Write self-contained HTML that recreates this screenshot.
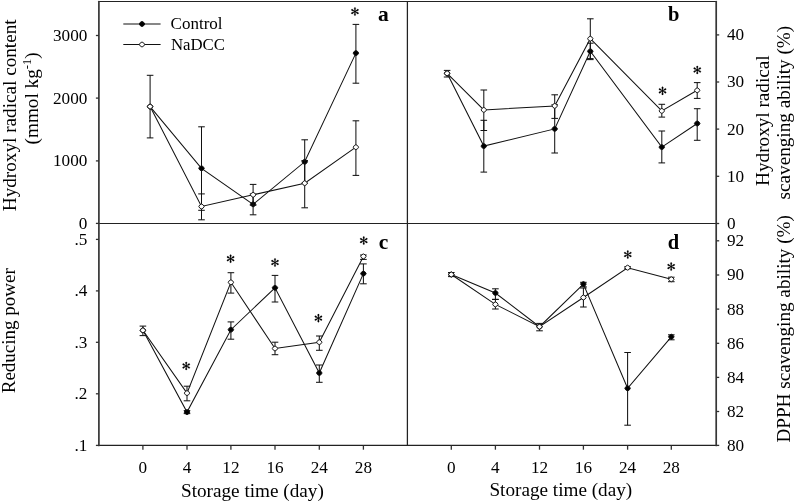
<!DOCTYPE html>
<html>
<head>
<meta charset="utf-8">
<title>Figure</title>
<style>
html, body { margin: 0; padding: 0; background: #ffffff; }
body { width: 797px; height: 503px; overflow: hidden; font-family: "Liberation Serif", serif; }
svg { display: block; will-change: transform; transform: translateZ(0); }
svg text { font-family: "Liberation Serif", serif; fill: #000; }
</style>
</head>
<body>
<svg width="797" height="503" viewBox="0 0 797 503">
<rect x="0" y="0" width="797" height="503" fill="#ffffff"/>
<line x1="98.90" y1="1.50" x2="716.20" y2="1.50" stroke="#222222" stroke-width="1.2" stroke-linecap="round"/>
<line x1="98.90" y1="223.50" x2="716.20" y2="223.50" stroke="#222222" stroke-width="1.2" stroke-linecap="round"/>
<line x1="98.90" y1="445.40" x2="716.20" y2="445.40" stroke="#222222" stroke-width="1.2" stroke-linecap="round"/>
<line x1="98.90" y1="1.50" x2="98.90" y2="445.40" stroke="#363636" stroke-width="1.7" stroke-linecap="round"/>
<line x1="716.20" y1="1.50" x2="716.20" y2="445.40" stroke="#363636" stroke-width="1.7" stroke-linecap="round"/>
<line x1="407.40" y1="1.50" x2="407.40" y2="445.40" stroke="#222222" stroke-width="1.25" />
<line x1="95.90" y1="35.50" x2="98.90" y2="35.50" stroke="#303030" stroke-width="1.3" />
<text x="87.40" y="40.90" font-size="17.2" text-anchor="end" font-weight="normal" >3000</text>
<line x1="95.90" y1="98.10" x2="98.90" y2="98.10" stroke="#303030" stroke-width="1.3" />
<text x="87.40" y="103.50" font-size="17.2" text-anchor="end" font-weight="normal" >2000</text>
<line x1="95.90" y1="160.90" x2="98.90" y2="160.90" stroke="#303030" stroke-width="1.3" />
<text x="87.40" y="166.30" font-size="17.2" text-anchor="end" font-weight="normal" >1000</text>
<line x1="95.90" y1="223.40" x2="98.90" y2="223.40" stroke="#303030" stroke-width="1.3" />
<text x="87.40" y="228.80" font-size="17.2" text-anchor="end" font-weight="normal" >0</text>
<line x1="95.90" y1="239.40" x2="98.90" y2="239.40" stroke="#303030" stroke-width="1.3" />
<text x="87.40" y="244.80" font-size="17.2" text-anchor="end" font-weight="normal" >.5</text>
<line x1="95.90" y1="290.90" x2="98.90" y2="290.90" stroke="#303030" stroke-width="1.3" />
<text x="87.40" y="296.30" font-size="17.2" text-anchor="end" font-weight="normal" >.4</text>
<line x1="95.90" y1="342.30" x2="98.90" y2="342.30" stroke="#303030" stroke-width="1.3" />
<text x="87.40" y="347.70" font-size="17.2" text-anchor="end" font-weight="normal" >.3</text>
<line x1="95.90" y1="393.80" x2="98.90" y2="393.80" stroke="#303030" stroke-width="1.3" />
<text x="87.40" y="399.20" font-size="17.2" text-anchor="end" font-weight="normal" >.2</text>
<line x1="95.90" y1="445.40" x2="98.90" y2="445.40" stroke="#303030" stroke-width="1.3" />
<text x="87.40" y="450.80" font-size="17.2" text-anchor="end" font-weight="normal" >.1</text>
<line x1="716.20" y1="34.90" x2="719.20" y2="34.90" stroke="#303030" stroke-width="1.3" />
<text x="727.00" y="40.30" font-size="17.2" text-anchor="start" font-weight="normal" >40</text>
<line x1="716.20" y1="82.00" x2="719.20" y2="82.00" stroke="#303030" stroke-width="1.3" />
<text x="727.00" y="87.40" font-size="17.2" text-anchor="start" font-weight="normal" >30</text>
<line x1="716.20" y1="129.10" x2="719.20" y2="129.10" stroke="#303030" stroke-width="1.3" />
<text x="727.00" y="134.50" font-size="17.2" text-anchor="start" font-weight="normal" >20</text>
<line x1="716.20" y1="176.30" x2="719.20" y2="176.30" stroke="#303030" stroke-width="1.3" />
<text x="727.00" y="181.70" font-size="17.2" text-anchor="start" font-weight="normal" >10</text>
<line x1="716.20" y1="223.50" x2="719.20" y2="223.50" stroke="#303030" stroke-width="1.3" />
<text x="727.00" y="228.90" font-size="17.2" text-anchor="start" font-weight="normal" >0</text>
<line x1="716.20" y1="240.80" x2="719.20" y2="240.80" stroke="#303030" stroke-width="1.3" />
<text x="727.00" y="246.20" font-size="17.2" text-anchor="start" font-weight="normal" >92</text>
<line x1="716.20" y1="275.00" x2="719.20" y2="275.00" stroke="#303030" stroke-width="1.3" />
<text x="727.00" y="280.40" font-size="17.2" text-anchor="start" font-weight="normal" >90</text>
<line x1="716.20" y1="309.10" x2="719.20" y2="309.10" stroke="#303030" stroke-width="1.3" />
<text x="727.00" y="314.50" font-size="17.2" text-anchor="start" font-weight="normal" >88</text>
<line x1="716.20" y1="343.30" x2="719.20" y2="343.30" stroke="#303030" stroke-width="1.3" />
<text x="727.00" y="348.70" font-size="17.2" text-anchor="start" font-weight="normal" >86</text>
<line x1="716.20" y1="377.40" x2="719.20" y2="377.40" stroke="#303030" stroke-width="1.3" />
<text x="727.00" y="382.80" font-size="17.2" text-anchor="start" font-weight="normal" >84</text>
<line x1="716.20" y1="411.50" x2="719.20" y2="411.50" stroke="#303030" stroke-width="1.3" />
<text x="727.00" y="416.90" font-size="17.2" text-anchor="start" font-weight="normal" >82</text>
<line x1="716.20" y1="445.40" x2="719.20" y2="445.40" stroke="#303030" stroke-width="1.3" />
<text x="727.00" y="450.80" font-size="17.2" text-anchor="start" font-weight="normal" >80</text>
<line x1="142.90" y1="445.40" x2="142.90" y2="449.70" stroke="#303030" stroke-width="1.3" />
<text x="142.90" y="473.40" font-size="17.2" text-anchor="middle" font-weight="normal" >0</text>
<line x1="187.00" y1="445.40" x2="187.00" y2="449.70" stroke="#303030" stroke-width="1.3" />
<text x="187.00" y="473.40" font-size="17.2" text-anchor="middle" font-weight="normal" >4</text>
<line x1="230.90" y1="445.40" x2="230.90" y2="449.70" stroke="#303030" stroke-width="1.3" />
<text x="230.90" y="473.40" font-size="17.2" text-anchor="middle" font-weight="normal" >12</text>
<line x1="275.00" y1="445.40" x2="275.00" y2="449.70" stroke="#303030" stroke-width="1.3" />
<text x="275.00" y="473.40" font-size="17.2" text-anchor="middle" font-weight="normal" >16</text>
<line x1="319.30" y1="445.40" x2="319.30" y2="449.70" stroke="#303030" stroke-width="1.3" />
<text x="319.30" y="473.40" font-size="17.2" text-anchor="middle" font-weight="normal" >24</text>
<line x1="363.40" y1="445.40" x2="363.40" y2="449.70" stroke="#303030" stroke-width="1.3" />
<text x="363.40" y="473.40" font-size="17.2" text-anchor="middle" font-weight="normal" >28</text>
<line x1="451.30" y1="445.40" x2="451.30" y2="449.70" stroke="#303030" stroke-width="1.3" />
<text x="451.30" y="473.40" font-size="17.2" text-anchor="middle" font-weight="normal" >0</text>
<line x1="495.40" y1="445.40" x2="495.40" y2="449.70" stroke="#303030" stroke-width="1.3" />
<text x="495.40" y="473.40" font-size="17.2" text-anchor="middle" font-weight="normal" >4</text>
<line x1="539.50" y1="445.40" x2="539.50" y2="449.70" stroke="#303030" stroke-width="1.3" />
<text x="539.50" y="473.40" font-size="17.2" text-anchor="middle" font-weight="normal" >12</text>
<line x1="583.40" y1="445.40" x2="583.40" y2="449.70" stroke="#303030" stroke-width="1.3" />
<text x="583.40" y="473.40" font-size="17.2" text-anchor="middle" font-weight="normal" >16</text>
<line x1="627.60" y1="445.40" x2="627.60" y2="449.70" stroke="#303030" stroke-width="1.3" />
<text x="627.60" y="473.40" font-size="17.2" text-anchor="middle" font-weight="normal" >24</text>
<line x1="671.30" y1="445.40" x2="671.30" y2="449.70" stroke="#303030" stroke-width="1.3" />
<text x="671.30" y="473.40" font-size="17.2" text-anchor="middle" font-weight="normal" >28</text>
<text x="252.40" y="497.00" font-size="19.2" text-anchor="middle" font-weight="normal" >Storage time (day)</text>
<text x="560.80" y="495.60" font-size="19.2" text-anchor="middle" font-weight="normal" >Storage time (day)</text>
<text x="15.90" y="115.30" font-size="19.2" text-anchor="middle" font-weight="normal" transform="rotate(-90 15.90 115.30)" >Hydroxyl radical content</text>
<text x="38.10" y="98.40" font-size="19.2" text-anchor="middle" font-weight="normal" transform="rotate(-90 38.10 98.40)" >(mmol kg<tspan font-size="12.5" dy="-7">-1</tspan><tspan dy="7">)</tspan></text>
<text x="15.00" y="330.70" font-size="19.0" text-anchor="middle" font-weight="normal" transform="rotate(-90 15.00 330.70)" >Reducing power</text>
<text x="769.30" y="120.60" font-size="19.2" text-anchor="middle" font-weight="normal" transform="rotate(-90 769.30 120.60)" >Hydroxyl radical</text>
<text x="790.50" y="112.60" font-size="19.2" text-anchor="middle" font-weight="normal" transform="rotate(-90 790.50 112.60)" >scavenging ability (%)</text>
<text x="789.90" y="328.80" font-size="19.2" text-anchor="middle" font-weight="normal" transform="rotate(-90 789.90 328.80)" >DPPH scavenging ability (%)</text>
<line x1="123.30" y1="24.00" x2="160.60" y2="24.00" stroke="#111111" stroke-width="1.03" />
<polygon points="139.20,24.00 140.24,22.36 142.00,21.40 143.76,22.36 144.80,24.00 143.76,25.64 142.00,26.60 140.24,25.64" fill="#000" stroke="#111" stroke-width="0.95" stroke-linejoin="round"/>
<line x1="123.30" y1="44.50" x2="160.60" y2="44.50" stroke="#111111" stroke-width="1.03" />
<polygon points="139.30,44.50 140.30,42.92 142.00,42.00 143.70,42.92 144.70,44.50 143.70,46.08 142.00,47.00 140.30,46.08" fill="#fff" stroke="#111" stroke-width="0.95" stroke-linejoin="round"/>
<text x="170.60" y="29.10" font-size="17" text-anchor="start" font-weight="normal" >Control</text>
<text x="170.90" y="49.80" font-size="16.8" text-anchor="start" font-weight="normal" >NaDCC</text>
<line x1="150.10" y1="75.30" x2="150.10" y2="137.90" stroke="#111111" stroke-width="1.03" />
<line x1="146.80" y1="75.30" x2="153.40" y2="75.30" stroke="#111111" stroke-width="1.03" />
<line x1="146.80" y1="137.90" x2="153.40" y2="137.90" stroke="#111111" stroke-width="1.03" />
<line x1="201.50" y1="126.80" x2="201.50" y2="210.30" stroke="#111111" stroke-width="1.03" />
<line x1="198.20" y1="126.80" x2="204.80" y2="126.80" stroke="#111111" stroke-width="1.03" />
<line x1="198.20" y1="210.30" x2="204.80" y2="210.30" stroke="#111111" stroke-width="1.03" />
<line x1="253.10" y1="193.90" x2="253.10" y2="214.80" stroke="#111111" stroke-width="1.03" />
<line x1="249.80" y1="193.90" x2="256.40" y2="193.90" stroke="#111111" stroke-width="1.03" />
<line x1="249.80" y1="214.80" x2="256.40" y2="214.80" stroke="#111111" stroke-width="1.03" />
<line x1="304.70" y1="139.80" x2="304.70" y2="183.20" stroke="#111111" stroke-width="1.03" />
<line x1="301.40" y1="139.80" x2="308.00" y2="139.80" stroke="#111111" stroke-width="1.03" />
<line x1="301.40" y1="183.20" x2="308.00" y2="183.20" stroke="#111111" stroke-width="1.03" />
<line x1="355.90" y1="24.40" x2="355.90" y2="83.20" stroke="#111111" stroke-width="1.03" />
<line x1="352.60" y1="24.40" x2="359.20" y2="24.40" stroke="#111111" stroke-width="1.03" />
<line x1="352.60" y1="83.20" x2="359.20" y2="83.20" stroke="#111111" stroke-width="1.03" />
<polyline points="150.10,106.60 201.50,168.30 253.10,204.30 304.70,161.80 355.90,53.10" fill="none" stroke="#111111" stroke-width="1.03"/>
<polygon points="147.30,106.60 148.34,104.96 150.10,104.00 151.86,104.96 152.90,106.60 151.86,108.24 150.10,109.20 148.34,108.24" fill="#000" stroke="#111" stroke-width="0.95" stroke-linejoin="round"/>
<polygon points="198.70,168.30 199.74,166.66 201.50,165.70 203.26,166.66 204.30,168.30 203.26,169.94 201.50,170.90 199.74,169.94" fill="#000" stroke="#111" stroke-width="0.95" stroke-linejoin="round"/>
<polygon points="250.30,204.30 251.34,202.66 253.10,201.70 254.86,202.66 255.90,204.30 254.86,205.94 253.10,206.90 251.34,205.94" fill="#000" stroke="#111" stroke-width="0.95" stroke-linejoin="round"/>
<polygon points="301.90,161.80 302.94,160.16 304.70,159.20 306.46,160.16 307.50,161.80 306.46,163.44 304.70,164.40 302.94,163.44" fill="#000" stroke="#111" stroke-width="0.95" stroke-linejoin="round"/>
<polygon points="353.10,53.10 354.14,51.46 355.90,50.50 357.66,51.46 358.70,53.10 357.66,54.74 355.90,55.70 354.14,54.74" fill="#000" stroke="#111" stroke-width="0.95" stroke-linejoin="round"/>
<line x1="201.50" y1="193.90" x2="201.50" y2="219.80" stroke="#111111" stroke-width="1.03" />
<line x1="198.20" y1="193.90" x2="204.80" y2="193.90" stroke="#111111" stroke-width="1.03" />
<line x1="198.20" y1="219.80" x2="204.80" y2="219.80" stroke="#111111" stroke-width="1.03" />
<line x1="253.10" y1="184.40" x2="253.10" y2="205.20" stroke="#111111" stroke-width="1.03" />
<line x1="249.80" y1="184.40" x2="256.40" y2="184.40" stroke="#111111" stroke-width="1.03" />
<line x1="249.80" y1="205.20" x2="256.40" y2="205.20" stroke="#111111" stroke-width="1.03" />
<line x1="304.70" y1="160.60" x2="304.70" y2="207.80" stroke="#111111" stroke-width="1.03" />
<line x1="301.40" y1="160.60" x2="308.00" y2="160.60" stroke="#111111" stroke-width="1.03" />
<line x1="301.40" y1="207.80" x2="308.00" y2="207.80" stroke="#111111" stroke-width="1.03" />
<line x1="355.90" y1="120.80" x2="355.90" y2="175.40" stroke="#111111" stroke-width="1.03" />
<line x1="352.60" y1="120.80" x2="359.20" y2="120.80" stroke="#111111" stroke-width="1.03" />
<line x1="352.60" y1="175.40" x2="359.20" y2="175.40" stroke="#111111" stroke-width="1.03" />
<polyline points="150.10,106.60 201.50,206.50 253.10,194.80 304.70,183.20 355.90,147.20" fill="none" stroke="#111111" stroke-width="1.03"/>
<polygon points="147.40,106.60 148.40,105.02 150.10,104.10 151.80,105.02 152.80,106.60 151.80,108.17 150.10,109.10 148.40,108.17" fill="#fff" stroke="#111" stroke-width="0.95" stroke-linejoin="round"/>
<polygon points="198.80,206.50 199.80,204.93 201.50,204.00 203.20,204.93 204.20,206.50 203.20,208.07 201.50,209.00 199.80,208.07" fill="#fff" stroke="#111" stroke-width="0.95" stroke-linejoin="round"/>
<polygon points="250.40,194.80 251.40,193.23 253.10,192.30 254.80,193.23 255.80,194.80 254.80,196.38 253.10,197.30 251.40,196.38" fill="#fff" stroke="#111" stroke-width="0.95" stroke-linejoin="round"/>
<polygon points="302.00,183.20 303.00,181.62 304.70,180.70 306.40,181.62 307.40,183.20 306.40,184.77 304.70,185.70 303.00,184.77" fill="#fff" stroke="#111" stroke-width="0.95" stroke-linejoin="round"/>
<polygon points="353.20,147.20 354.20,145.62 355.90,144.70 357.60,145.62 358.60,147.20 357.60,148.77 355.90,149.70 354.20,148.77" fill="#fff" stroke="#111" stroke-width="0.95" stroke-linejoin="round"/>
<line x1="447.10" y1="70.40" x2="447.10" y2="77.00" stroke="#111111" stroke-width="1.03" />
<line x1="443.80" y1="70.40" x2="450.40" y2="70.40" stroke="#111111" stroke-width="1.03" />
<line x1="443.80" y1="77.00" x2="450.40" y2="77.00" stroke="#111111" stroke-width="1.03" />
<line x1="483.80" y1="120.30" x2="483.80" y2="172.10" stroke="#111111" stroke-width="1.03" />
<line x1="480.50" y1="120.30" x2="487.10" y2="120.30" stroke="#111111" stroke-width="1.03" />
<line x1="480.50" y1="172.10" x2="487.10" y2="172.10" stroke="#111111" stroke-width="1.03" />
<line x1="554.70" y1="104.80" x2="554.70" y2="153.00" stroke="#111111" stroke-width="1.03" />
<line x1="551.40" y1="104.80" x2="558.00" y2="104.80" stroke="#111111" stroke-width="1.03" />
<line x1="551.40" y1="153.00" x2="558.00" y2="153.00" stroke="#111111" stroke-width="1.03" />
<line x1="590.30" y1="43.20" x2="590.30" y2="59.60" stroke="#111111" stroke-width="1.03" />
<line x1="587.00" y1="43.20" x2="593.60" y2="43.20" stroke="#111111" stroke-width="1.03" />
<line x1="587.00" y1="59.60" x2="593.60" y2="59.60" stroke="#111111" stroke-width="1.03" />
<line x1="661.80" y1="131.00" x2="661.80" y2="162.90" stroke="#111111" stroke-width="1.03" />
<line x1="658.50" y1="131.00" x2="665.10" y2="131.00" stroke="#111111" stroke-width="1.03" />
<line x1="658.50" y1="162.90" x2="665.10" y2="162.90" stroke="#111111" stroke-width="1.03" />
<line x1="697.20" y1="108.70" x2="697.20" y2="140.30" stroke="#111111" stroke-width="1.03" />
<line x1="693.90" y1="108.70" x2="700.50" y2="108.70" stroke="#111111" stroke-width="1.03" />
<line x1="693.90" y1="140.30" x2="700.50" y2="140.30" stroke="#111111" stroke-width="1.03" />
<polyline points="447.10,73.30 483.80,146.10 554.70,128.90 590.30,51.30 661.80,147.10 697.20,123.50" fill="none" stroke="#111111" stroke-width="1.03"/>
<polygon points="444.30,73.30 445.34,71.66 447.10,70.70 448.86,71.66 449.90,73.30 448.86,74.94 447.10,75.90 445.34,74.94" fill="#000" stroke="#111" stroke-width="0.95" stroke-linejoin="round"/>
<polygon points="481.00,146.10 482.04,144.46 483.80,143.50 485.56,144.46 486.60,146.10 485.56,147.74 483.80,148.70 482.04,147.74" fill="#000" stroke="#111" stroke-width="0.95" stroke-linejoin="round"/>
<polygon points="551.90,128.90 552.94,127.26 554.70,126.30 556.46,127.26 557.50,128.90 556.46,130.54 554.70,131.50 552.94,130.54" fill="#000" stroke="#111" stroke-width="0.95" stroke-linejoin="round"/>
<polygon points="587.50,51.30 588.54,49.66 590.30,48.70 592.06,49.66 593.10,51.30 592.06,52.94 590.30,53.90 588.54,52.94" fill="#000" stroke="#111" stroke-width="0.95" stroke-linejoin="round"/>
<polygon points="659.00,147.10 660.04,145.46 661.80,144.50 663.56,145.46 664.60,147.10 663.56,148.74 661.80,149.70 660.04,148.74" fill="#000" stroke="#111" stroke-width="0.95" stroke-linejoin="round"/>
<polygon points="694.40,123.50 695.44,121.86 697.20,120.90 698.96,121.86 700.00,123.50 698.96,125.14 697.20,126.10 695.44,125.14" fill="#000" stroke="#111" stroke-width="0.95" stroke-linejoin="round"/>
<line x1="483.80" y1="90.00" x2="483.80" y2="130.50" stroke="#111111" stroke-width="1.03" />
<line x1="480.50" y1="90.00" x2="487.10" y2="90.00" stroke="#111111" stroke-width="1.03" />
<line x1="480.50" y1="130.50" x2="487.10" y2="130.50" stroke="#111111" stroke-width="1.03" />
<line x1="554.70" y1="94.80" x2="554.70" y2="118.40" stroke="#111111" stroke-width="1.03" />
<line x1="551.40" y1="94.80" x2="558.00" y2="94.80" stroke="#111111" stroke-width="1.03" />
<line x1="551.40" y1="118.40" x2="558.00" y2="118.40" stroke="#111111" stroke-width="1.03" />
<line x1="590.30" y1="18.80" x2="590.30" y2="58.60" stroke="#111111" stroke-width="1.03" />
<line x1="587.00" y1="18.80" x2="593.60" y2="18.80" stroke="#111111" stroke-width="1.03" />
<line x1="587.00" y1="58.60" x2="593.60" y2="58.60" stroke="#111111" stroke-width="1.03" />
<line x1="661.80" y1="104.30" x2="661.80" y2="117.10" stroke="#111111" stroke-width="1.03" />
<line x1="658.50" y1="104.30" x2="665.10" y2="104.30" stroke="#111111" stroke-width="1.03" />
<line x1="658.50" y1="117.10" x2="665.10" y2="117.10" stroke="#111111" stroke-width="1.03" />
<line x1="697.20" y1="82.60" x2="697.20" y2="98.40" stroke="#111111" stroke-width="1.03" />
<line x1="693.90" y1="82.60" x2="700.50" y2="82.60" stroke="#111111" stroke-width="1.03" />
<line x1="693.90" y1="98.40" x2="700.50" y2="98.40" stroke="#111111" stroke-width="1.03" />
<polyline points="447.10,73.30 483.80,109.90 554.70,105.90 590.30,38.70 661.80,110.90 697.20,90.30" fill="none" stroke="#111111" stroke-width="1.03"/>
<polygon points="444.40,73.30 445.40,71.72 447.10,70.80 448.80,71.72 449.80,73.30 448.80,74.88 447.10,75.80 445.40,74.88" fill="#fff" stroke="#111" stroke-width="0.95" stroke-linejoin="round"/>
<polygon points="481.10,109.90 482.10,108.33 483.80,107.40 485.50,108.33 486.50,109.90 485.50,111.48 483.80,112.40 482.10,111.48" fill="#fff" stroke="#111" stroke-width="0.95" stroke-linejoin="round"/>
<polygon points="552.00,105.90 553.00,104.33 554.70,103.40 556.40,104.33 557.40,105.90 556.40,107.48 554.70,108.40 553.00,107.48" fill="#fff" stroke="#111" stroke-width="0.95" stroke-linejoin="round"/>
<polygon points="587.60,38.70 588.60,37.12 590.30,36.20 592.00,37.12 593.00,38.70 592.00,40.28 590.30,41.20 588.60,40.28" fill="#fff" stroke="#111" stroke-width="0.95" stroke-linejoin="round"/>
<polygon points="659.10,110.90 660.10,109.33 661.80,108.40 663.50,109.33 664.50,110.90 663.50,112.48 661.80,113.40 660.10,112.48" fill="#fff" stroke="#111" stroke-width="0.95" stroke-linejoin="round"/>
<polygon points="694.50,90.30 695.50,88.72 697.20,87.80 698.90,88.72 699.90,90.30 698.90,91.88 697.20,92.80 695.50,91.88" fill="#fff" stroke="#111" stroke-width="0.95" stroke-linejoin="round"/>
<line x1="142.90" y1="326.10" x2="142.90" y2="335.60" stroke="#111111" stroke-width="1.03" />
<line x1="139.60" y1="326.10" x2="146.20" y2="326.10" stroke="#111111" stroke-width="1.03" />
<line x1="139.60" y1="335.60" x2="146.20" y2="335.60" stroke="#111111" stroke-width="1.03" />
<line x1="187.00" y1="410.60" x2="187.00" y2="413.60" stroke="#111111" stroke-width="1.03" />
<line x1="183.70" y1="410.60" x2="190.30" y2="410.60" stroke="#111111" stroke-width="1.03" />
<line x1="183.70" y1="413.60" x2="190.30" y2="413.60" stroke="#111111" stroke-width="1.03" />
<line x1="230.90" y1="321.90" x2="230.90" y2="339.20" stroke="#111111" stroke-width="1.03" />
<line x1="227.60" y1="321.90" x2="234.20" y2="321.90" stroke="#111111" stroke-width="1.03" />
<line x1="227.60" y1="339.20" x2="234.20" y2="339.20" stroke="#111111" stroke-width="1.03" />
<line x1="275.00" y1="275.40" x2="275.00" y2="302.00" stroke="#111111" stroke-width="1.03" />
<line x1="271.70" y1="275.40" x2="278.30" y2="275.40" stroke="#111111" stroke-width="1.03" />
<line x1="271.70" y1="302.00" x2="278.30" y2="302.00" stroke="#111111" stroke-width="1.03" />
<line x1="319.30" y1="365.00" x2="319.30" y2="382.30" stroke="#111111" stroke-width="1.03" />
<line x1="316.00" y1="365.00" x2="322.60" y2="365.00" stroke="#111111" stroke-width="1.03" />
<line x1="316.00" y1="382.30" x2="322.60" y2="382.30" stroke="#111111" stroke-width="1.03" />
<line x1="363.40" y1="263.90" x2="363.40" y2="283.80" stroke="#111111" stroke-width="1.03" />
<line x1="360.10" y1="263.90" x2="366.70" y2="263.90" stroke="#111111" stroke-width="1.03" />
<line x1="360.10" y1="283.80" x2="366.70" y2="283.80" stroke="#111111" stroke-width="1.03" />
<polyline points="142.90,330.30 187.00,412.10 230.90,329.70 275.00,287.80 319.30,373.00 363.40,273.60" fill="none" stroke="#111111" stroke-width="1.03"/>
<polygon points="140.10,330.30 141.14,328.66 142.90,327.70 144.66,328.66 145.70,330.30 144.66,331.94 142.90,332.90 141.14,331.94" fill="#000" stroke="#111" stroke-width="0.95" stroke-linejoin="round"/>
<polygon points="184.20,412.10 185.24,410.46 187.00,409.50 188.76,410.46 189.80,412.10 188.76,413.74 187.00,414.70 185.24,413.74" fill="#000" stroke="#111" stroke-width="0.95" stroke-linejoin="round"/>
<polygon points="228.10,329.70 229.14,328.06 230.90,327.10 232.66,328.06 233.70,329.70 232.66,331.34 230.90,332.30 229.14,331.34" fill="#000" stroke="#111" stroke-width="0.95" stroke-linejoin="round"/>
<polygon points="272.20,287.80 273.24,286.16 275.00,285.20 276.76,286.16 277.80,287.80 276.76,289.44 275.00,290.40 273.24,289.44" fill="#000" stroke="#111" stroke-width="0.95" stroke-linejoin="round"/>
<polygon points="316.50,373.00 317.54,371.36 319.30,370.40 321.06,371.36 322.10,373.00 321.06,374.64 319.30,375.60 317.54,374.64" fill="#000" stroke="#111" stroke-width="0.95" stroke-linejoin="round"/>
<polygon points="360.60,273.60 361.64,271.96 363.40,271.00 365.16,271.96 366.20,273.60 365.16,275.24 363.40,276.20 361.64,275.24" fill="#000" stroke="#111" stroke-width="0.95" stroke-linejoin="round"/>
<line x1="187.00" y1="386.20" x2="187.00" y2="400.80" stroke="#111111" stroke-width="1.03" />
<line x1="183.70" y1="386.20" x2="190.30" y2="386.20" stroke="#111111" stroke-width="1.03" />
<line x1="183.70" y1="400.80" x2="190.30" y2="400.80" stroke="#111111" stroke-width="1.03" />
<line x1="230.90" y1="272.70" x2="230.90" y2="293.10" stroke="#111111" stroke-width="1.03" />
<line x1="227.60" y1="272.70" x2="234.20" y2="272.70" stroke="#111111" stroke-width="1.03" />
<line x1="227.60" y1="293.10" x2="234.20" y2="293.10" stroke="#111111" stroke-width="1.03" />
<line x1="275.00" y1="342.20" x2="275.00" y2="354.70" stroke="#111111" stroke-width="1.03" />
<line x1="271.70" y1="342.20" x2="278.30" y2="342.20" stroke="#111111" stroke-width="1.03" />
<line x1="271.70" y1="354.70" x2="278.30" y2="354.70" stroke="#111111" stroke-width="1.03" />
<line x1="319.30" y1="336.00" x2="319.30" y2="350.30" stroke="#111111" stroke-width="1.03" />
<line x1="316.00" y1="336.00" x2="322.60" y2="336.00" stroke="#111111" stroke-width="1.03" />
<line x1="316.00" y1="350.30" x2="322.60" y2="350.30" stroke="#111111" stroke-width="1.03" />
<line x1="363.40" y1="255.00" x2="363.40" y2="259.40" stroke="#111111" stroke-width="1.03" />
<line x1="360.10" y1="255.00" x2="366.70" y2="255.00" stroke="#111111" stroke-width="1.03" />
<line x1="360.10" y1="259.40" x2="366.70" y2="259.40" stroke="#111111" stroke-width="1.03" />
<polyline points="142.90,330.30 187.00,393.10 230.90,282.30 275.00,348.50 319.30,342.20 363.40,256.40" fill="none" stroke="#111111" stroke-width="1.03"/>
<polygon points="140.20,330.30 141.20,328.73 142.90,327.80 144.60,328.73 145.60,330.30 144.60,331.88 142.90,332.80 141.20,331.88" fill="#fff" stroke="#111" stroke-width="0.95" stroke-linejoin="round"/>
<polygon points="184.30,393.10 185.30,391.53 187.00,390.60 188.70,391.53 189.70,393.10 188.70,394.68 187.00,395.60 185.30,394.68" fill="#fff" stroke="#111" stroke-width="0.95" stroke-linejoin="round"/>
<polygon points="228.20,282.30 229.20,280.73 230.90,279.80 232.60,280.73 233.60,282.30 232.60,283.88 230.90,284.80 229.20,283.88" fill="#fff" stroke="#111" stroke-width="0.95" stroke-linejoin="round"/>
<polygon points="272.30,348.50 273.30,346.93 275.00,346.00 276.70,346.93 277.70,348.50 276.70,350.07 275.00,351.00 273.30,350.07" fill="#fff" stroke="#111" stroke-width="0.95" stroke-linejoin="round"/>
<polygon points="316.60,342.20 317.60,340.62 319.30,339.70 321.00,340.62 322.00,342.20 321.00,343.77 319.30,344.70 317.60,343.77" fill="#fff" stroke="#111" stroke-width="0.95" stroke-linejoin="round"/>
<polygon points="360.70,256.40 361.70,254.82 363.40,253.90 365.10,254.82 366.10,256.40 365.10,257.97 363.40,258.90 361.70,257.97" fill="#fff" stroke="#111" stroke-width="0.95" stroke-linejoin="round"/>
<line x1="451.30" y1="272.50" x2="451.30" y2="276.60" stroke="#111111" stroke-width="1.03" />
<line x1="448.00" y1="272.50" x2="454.60" y2="272.50" stroke="#111111" stroke-width="1.03" />
<line x1="448.00" y1="276.60" x2="454.60" y2="276.60" stroke="#111111" stroke-width="1.03" />
<line x1="495.40" y1="288.80" x2="495.40" y2="299.40" stroke="#111111" stroke-width="1.03" />
<line x1="492.10" y1="288.80" x2="498.70" y2="288.80" stroke="#111111" stroke-width="1.03" />
<line x1="492.10" y1="299.40" x2="498.70" y2="299.40" stroke="#111111" stroke-width="1.03" />
<line x1="539.50" y1="323.40" x2="539.50" y2="330.80" stroke="#111111" stroke-width="1.03" />
<line x1="536.20" y1="323.40" x2="542.80" y2="323.40" stroke="#111111" stroke-width="1.03" />
<line x1="536.20" y1="330.80" x2="542.80" y2="330.80" stroke="#111111" stroke-width="1.03" />
<line x1="583.40" y1="282.30" x2="583.40" y2="286.80" stroke="#111111" stroke-width="1.03" />
<line x1="580.10" y1="282.30" x2="586.70" y2="282.30" stroke="#111111" stroke-width="1.03" />
<line x1="580.10" y1="286.80" x2="586.70" y2="286.80" stroke="#111111" stroke-width="1.03" />
<line x1="627.60" y1="352.50" x2="627.60" y2="425.20" stroke="#111111" stroke-width="1.03" />
<line x1="624.30" y1="352.50" x2="630.90" y2="352.50" stroke="#111111" stroke-width="1.03" />
<line x1="624.30" y1="425.20" x2="630.90" y2="425.20" stroke="#111111" stroke-width="1.03" />
<line x1="671.30" y1="334.80" x2="671.30" y2="339.80" stroke="#111111" stroke-width="1.03" />
<line x1="668.00" y1="334.80" x2="674.60" y2="334.80" stroke="#111111" stroke-width="1.03" />
<line x1="668.00" y1="339.80" x2="674.60" y2="339.80" stroke="#111111" stroke-width="1.03" />
<polyline points="451.30,274.50 495.40,293.00 539.50,326.70 583.40,284.10 627.60,388.30 671.30,336.80" fill="none" stroke="#111111" stroke-width="1.03"/>
<polygon points="448.50,274.50 449.54,272.86 451.30,271.90 453.06,272.86 454.10,274.50 453.06,276.14 451.30,277.10 449.54,276.14" fill="#000" stroke="#111" stroke-width="0.95" stroke-linejoin="round"/>
<polygon points="492.60,293.00 493.64,291.36 495.40,290.40 497.16,291.36 498.20,293.00 497.16,294.64 495.40,295.60 493.64,294.64" fill="#000" stroke="#111" stroke-width="0.95" stroke-linejoin="round"/>
<polygon points="536.70,326.70 537.74,325.06 539.50,324.10 541.26,325.06 542.30,326.70 541.26,328.34 539.50,329.30 537.74,328.34" fill="#000" stroke="#111" stroke-width="0.95" stroke-linejoin="round"/>
<polygon points="580.60,284.10 581.64,282.46 583.40,281.50 585.16,282.46 586.20,284.10 585.16,285.74 583.40,286.70 581.64,285.74" fill="#000" stroke="#111" stroke-width="0.95" stroke-linejoin="round"/>
<polygon points="624.80,388.30 625.84,386.66 627.60,385.70 629.36,386.66 630.40,388.30 629.36,389.94 627.60,390.90 625.84,389.94" fill="#000" stroke="#111" stroke-width="0.95" stroke-linejoin="round"/>
<polygon points="668.50,336.80 669.54,335.16 671.30,334.20 673.06,335.16 674.10,336.80 673.06,338.44 671.30,339.40 669.54,338.44" fill="#000" stroke="#111" stroke-width="0.95" stroke-linejoin="round"/>
<line x1="495.40" y1="299.40" x2="495.40" y2="309.00" stroke="#111111" stroke-width="1.03" />
<line x1="492.10" y1="299.40" x2="498.70" y2="299.40" stroke="#111111" stroke-width="1.03" />
<line x1="492.10" y1="309.00" x2="498.70" y2="309.00" stroke="#111111" stroke-width="1.03" />
<line x1="583.40" y1="288.00" x2="583.40" y2="307.00" stroke="#111111" stroke-width="1.03" />
<line x1="580.10" y1="288.00" x2="586.70" y2="288.00" stroke="#111111" stroke-width="1.03" />
<line x1="580.10" y1="307.00" x2="586.70" y2="307.00" stroke="#111111" stroke-width="1.03" />
<line x1="627.60" y1="266.70" x2="627.60" y2="268.70" stroke="#111111" stroke-width="1.03" />
<line x1="624.30" y1="266.70" x2="630.90" y2="266.70" stroke="#111111" stroke-width="1.03" />
<line x1="624.30" y1="268.70" x2="630.90" y2="268.70" stroke="#111111" stroke-width="1.03" />
<line x1="671.30" y1="277.20" x2="671.30" y2="281.70" stroke="#111111" stroke-width="1.03" />
<line x1="668.00" y1="277.20" x2="674.60" y2="277.20" stroke="#111111" stroke-width="1.03" />
<line x1="668.00" y1="281.70" x2="674.60" y2="281.70" stroke="#111111" stroke-width="1.03" />
<polyline points="451.30,274.50 495.40,304.40 539.50,326.70 583.40,297.50 627.60,267.70 671.30,279.30" fill="none" stroke="#111111" stroke-width="1.03"/>
<polygon points="448.60,274.50 449.60,272.93 451.30,272.00 453.00,272.93 454.00,274.50 453.00,276.07 451.30,277.00 449.60,276.07" fill="#fff" stroke="#111" stroke-width="0.95" stroke-linejoin="round"/>
<polygon points="492.70,304.40 493.70,302.82 495.40,301.90 497.10,302.82 498.10,304.40 497.10,305.97 495.40,306.90 493.70,305.97" fill="#fff" stroke="#111" stroke-width="0.95" stroke-linejoin="round"/>
<polygon points="536.80,326.70 537.80,325.12 539.50,324.20 541.20,325.12 542.20,326.70 541.20,328.27 539.50,329.20 537.80,328.27" fill="#fff" stroke="#111" stroke-width="0.95" stroke-linejoin="round"/>
<polygon points="580.70,297.50 581.70,295.93 583.40,295.00 585.10,295.93 586.10,297.50 585.10,299.07 583.40,300.00 581.70,299.07" fill="#fff" stroke="#111" stroke-width="0.95" stroke-linejoin="round"/>
<polygon points="624.90,267.70 625.90,266.12 627.60,265.20 629.30,266.12 630.30,267.70 629.30,269.27 627.60,270.20 625.90,269.27" fill="#fff" stroke="#111" stroke-width="0.95" stroke-linejoin="round"/>
<polygon points="668.60,279.30 669.60,277.73 671.30,276.80 673.00,277.73 674.00,279.30 673.00,280.88 671.30,281.80 669.60,280.88" fill="#fff" stroke="#111" stroke-width="0.95" stroke-linejoin="round"/>
<path d="M354.66 11.56 L354.59 10.14 L354.16 8.64 L354.22 7.92 L354.59 7.51 L355.29 7.51 L355.66 7.92 L355.72 8.64 L355.29 10.14 L355.22 11.56Z M355.22 11.56 L355.29 12.98 L355.72 14.48 L355.66 15.21 L355.29 15.61 L354.59 15.61 L354.22 15.21 L354.16 14.48 L354.59 12.98 L354.66 11.56Z M354.80 11.32 L355.99 10.55 L357.08 9.43 L357.74 9.12 L358.27 9.23 L358.62 9.84 L358.46 10.36 L357.86 10.78 L356.34 11.15 L355.08 11.80Z M355.08 11.32 L356.34 11.97 L357.86 12.34 L358.46 12.76 L358.62 13.28 L358.27 13.89 L357.74 14.00 L357.08 13.69 L355.99 12.57 L354.80 11.80Z M355.08 11.80 L353.89 12.57 L352.80 13.69 L352.14 14.00 L351.61 13.89 L351.26 13.28 L351.42 12.76 L352.02 12.34 L353.54 11.97 L354.80 11.32Z M354.80 11.80 L353.54 11.15 L352.02 10.78 L351.42 10.36 L351.26 9.84 L351.61 9.23 L352.14 9.12 L352.80 9.43 L353.89 10.55 L355.08 11.32Z" fill="#000" stroke="#000" stroke-width="0.25" stroke-linejoin="round"/>
<path d="M662.26 90.84 L662.19 89.42 L661.76 87.92 L661.82 87.20 L662.19 86.79 L662.89 86.79 L663.26 87.20 L663.32 87.92 L662.89 89.42 L662.82 90.84Z M662.82 90.84 L662.89 92.26 L663.32 93.76 L663.26 94.48 L662.89 94.89 L662.19 94.89 L661.82 94.48 L661.76 93.76 L662.19 92.26 L662.26 90.84Z M662.40 90.60 L663.59 89.83 L664.68 88.71 L665.34 88.40 L665.87 88.51 L666.22 89.12 L666.06 89.64 L665.46 90.06 L663.94 90.43 L662.68 91.08Z M662.68 90.60 L663.94 91.25 L665.46 91.62 L666.06 92.04 L666.22 92.56 L665.87 93.17 L665.34 93.28 L664.68 92.97 L663.59 91.85 L662.40 91.08Z M662.68 91.08 L661.49 91.85 L660.40 92.97 L659.74 93.28 L659.21 93.17 L658.86 92.56 L659.02 92.04 L659.62 91.62 L661.14 91.25 L662.40 90.60Z M662.40 91.08 L661.14 90.43 L659.62 90.06 L659.02 89.64 L658.86 89.12 L659.21 88.51 L659.74 88.40 L660.40 88.71 L661.49 89.83 L662.68 90.60Z" fill="#000" stroke="#000" stroke-width="0.25" stroke-linejoin="round"/>
<path d="M696.98 69.96 L696.91 68.54 L696.48 67.04 L696.54 66.31 L696.91 65.91 L697.61 65.91 L697.98 66.31 L698.04 67.04 L697.61 68.54 L697.54 69.96Z M697.54 69.96 L697.61 71.38 L698.04 72.88 L697.98 73.60 L697.61 74.01 L696.91 74.01 L696.54 73.60 L696.48 72.88 L696.91 71.38 L696.98 69.96Z M697.12 69.72 L698.31 68.95 L699.40 67.83 L700.06 67.52 L700.59 67.63 L700.94 68.24 L700.78 68.76 L700.18 69.18 L698.66 69.55 L697.40 70.20Z M697.40 69.72 L698.66 70.37 L700.18 70.74 L700.78 71.16 L700.94 71.68 L700.59 72.29 L700.06 72.40 L699.40 72.09 L698.31 70.97 L697.12 70.20Z M697.40 70.20 L696.21 70.97 L695.12 72.09 L694.46 72.40 L693.93 72.29 L693.58 71.68 L693.74 71.16 L694.34 70.74 L695.86 70.37 L697.12 69.72Z M697.12 70.20 L695.86 69.55 L694.34 69.18 L693.74 68.76 L693.58 68.24 L693.93 67.63 L694.46 67.52 L695.12 67.83 L696.21 68.95 L697.40 69.72Z" fill="#000" stroke="#000" stroke-width="0.25" stroke-linejoin="round"/>
<path d="M185.92 365.96 L185.85 364.54 L185.42 363.04 L185.48 362.31 L185.85 361.91 L186.55 361.91 L186.92 362.31 L186.98 363.04 L186.55 364.54 L186.48 365.96Z M186.48 365.96 L186.55 367.38 L186.98 368.88 L186.92 369.60 L186.55 370.01 L185.85 370.01 L185.48 369.60 L185.42 368.88 L185.85 367.38 L185.92 365.96Z M186.06 365.72 L187.25 364.95 L188.34 363.83 L189.00 363.52 L189.53 363.63 L189.88 364.24 L189.72 364.76 L189.12 365.18 L187.60 365.55 L186.34 366.20Z M186.34 365.72 L187.60 366.37 L189.12 366.74 L189.72 367.16 L189.88 367.68 L189.53 368.29 L189.00 368.40 L188.34 368.09 L187.25 366.97 L186.06 366.20Z M186.34 366.20 L185.15 366.97 L184.06 368.09 L183.40 368.40 L182.87 368.29 L182.52 367.68 L182.68 367.16 L183.28 366.74 L184.80 366.37 L186.06 365.72Z M186.06 366.20 L184.80 365.55 L183.28 365.18 L182.68 364.76 L182.52 364.24 L182.87 363.63 L183.40 363.52 L184.06 363.83 L185.15 364.95 L186.34 365.72Z" fill="#000" stroke="#000" stroke-width="0.25" stroke-linejoin="round"/>
<path d="M230.32 258.70 L230.25 257.28 L229.82 255.78 L229.88 255.05 L230.25 254.65 L230.95 254.65 L231.32 255.05 L231.38 255.78 L230.95 257.28 L230.88 258.70Z M230.88 258.70 L230.95 260.12 L231.38 261.62 L231.32 262.34 L230.95 262.75 L230.25 262.75 L229.88 262.34 L229.82 261.62 L230.25 260.12 L230.32 258.70Z M230.46 258.46 L231.65 257.69 L232.74 256.57 L233.40 256.26 L233.93 256.37 L234.28 256.98 L234.12 257.50 L233.52 257.92 L232.00 258.29 L230.74 258.94Z M230.74 258.46 L232.00 259.11 L233.52 259.48 L234.12 259.90 L234.28 260.42 L233.93 261.03 L233.40 261.14 L232.74 260.83 L231.65 259.71 L230.46 258.94Z M230.74 258.94 L229.55 259.71 L228.46 260.83 L227.80 261.14 L227.27 261.03 L226.92 260.42 L227.08 259.90 L227.68 259.48 L229.20 259.11 L230.46 258.46Z M230.46 258.94 L229.20 258.29 L227.68 257.92 L227.08 257.50 L226.92 256.98 L227.27 256.37 L227.80 256.26 L228.46 256.57 L229.55 257.69 L230.74 258.46Z" fill="#000" stroke="#000" stroke-width="0.25" stroke-linejoin="round"/>
<path d="M274.72 262.50 L274.65 261.08 L274.22 259.58 L274.28 258.86 L274.65 258.45 L275.35 258.45 L275.72 258.86 L275.78 259.58 L275.35 261.08 L275.28 262.50Z M275.28 262.50 L275.35 263.92 L275.78 265.42 L275.72 266.14 L275.35 266.55 L274.65 266.55 L274.28 266.14 L274.22 265.42 L274.65 263.92 L274.72 262.50Z M274.86 262.26 L276.05 261.49 L277.14 260.37 L277.80 260.06 L278.33 260.17 L278.68 260.78 L278.52 261.30 L277.92 261.72 L276.40 262.09 L275.14 262.74Z M275.14 262.26 L276.40 262.91 L277.92 263.28 L278.52 263.70 L278.68 264.22 L278.33 264.83 L277.80 264.94 L277.14 264.63 L276.05 263.51 L274.86 262.74Z M275.14 262.74 L273.95 263.51 L272.86 264.63 L272.20 264.94 L271.67 264.83 L271.32 264.22 L271.48 263.70 L272.08 263.28 L273.60 262.91 L274.86 262.26Z M274.86 262.74 L273.60 262.09 L272.08 261.72 L271.48 261.30 L271.32 260.78 L271.67 260.17 L272.20 260.06 L272.86 260.37 L273.95 261.49 L275.14 262.26Z" fill="#000" stroke="#000" stroke-width="0.25" stroke-linejoin="round"/>
<path d="M318.12 318.16 L318.05 316.74 L317.62 315.24 L317.68 314.52 L318.05 314.11 L318.75 314.11 L319.12 314.52 L319.18 315.24 L318.75 316.74 L318.68 318.16Z M318.68 318.16 L318.75 319.58 L319.18 321.08 L319.12 321.81 L318.75 322.21 L318.05 322.21 L317.68 321.81 L317.62 321.08 L318.05 319.58 L318.12 318.16Z M318.26 317.92 L319.45 317.15 L320.54 316.03 L321.20 315.72 L321.73 315.83 L322.08 316.44 L321.92 316.96 L321.32 317.38 L319.80 317.75 L318.54 318.40Z M318.54 317.92 L319.80 318.57 L321.32 318.94 L321.92 319.36 L322.08 319.88 L321.73 320.49 L321.20 320.60 L320.54 320.29 L319.45 319.17 L318.26 318.40Z M318.54 318.40 L317.35 319.17 L316.26 320.29 L315.60 320.60 L315.07 320.49 L314.72 319.88 L314.88 319.36 L315.48 318.94 L317.00 318.57 L318.26 317.92Z M318.26 318.40 L317.00 317.75 L315.48 317.38 L314.88 316.96 L314.72 316.44 L315.07 315.83 L315.60 315.72 L316.26 316.03 L317.35 317.15 L318.54 317.92Z" fill="#000" stroke="#000" stroke-width="0.25" stroke-linejoin="round"/>
<path d="M363.47 240.55 L363.40 239.13 L362.97 237.63 L363.03 236.91 L363.40 236.50 L364.10 236.50 L364.47 236.91 L364.53 237.63 L364.10 239.13 L364.03 240.55Z M364.03 240.55 L364.10 241.97 L364.53 243.47 L364.47 244.20 L364.10 244.60 L363.40 244.60 L363.03 244.20 L362.97 243.47 L363.40 241.97 L363.47 240.55Z M363.61 240.31 L364.80 239.54 L365.89 238.42 L366.55 238.11 L367.08 238.22 L367.43 238.83 L367.27 239.35 L366.67 239.77 L365.15 240.14 L363.89 240.79Z M363.89 240.31 L365.15 240.96 L366.67 241.33 L367.27 241.75 L367.43 242.27 L367.08 242.88 L366.55 242.99 L365.89 242.68 L364.80 241.56 L363.61 240.79Z M363.89 240.79 L362.70 241.56 L361.61 242.68 L360.95 242.99 L360.42 242.88 L360.07 242.27 L360.23 241.75 L360.83 241.33 L362.35 240.96 L363.61 240.31Z M363.61 240.79 L362.35 240.14 L360.83 239.77 L360.23 239.35 L360.07 238.83 L360.42 238.22 L360.95 238.11 L361.61 238.42 L362.70 239.54 L363.89 240.31Z" fill="#000" stroke="#000" stroke-width="0.25" stroke-linejoin="round"/>
<path d="M627.50 254.52 L627.43 253.10 L627.00 251.60 L627.06 250.88 L627.43 250.47 L628.13 250.47 L628.50 250.88 L628.56 251.60 L628.13 253.10 L628.06 254.52Z M628.06 254.52 L628.13 255.94 L628.56 257.44 L628.50 258.17 L628.13 258.57 L627.43 258.57 L627.06 258.17 L627.00 257.44 L627.43 255.94 L627.50 254.52Z M627.64 254.28 L628.83 253.51 L629.92 252.39 L630.58 252.08 L631.11 252.19 L631.46 252.80 L631.30 253.32 L630.70 253.74 L629.18 254.11 L627.92 254.76Z M627.92 254.28 L629.18 254.93 L630.70 255.30 L631.30 255.72 L631.46 256.24 L631.11 256.85 L630.58 256.96 L629.92 256.65 L628.83 255.53 L627.64 254.76Z M627.92 254.76 L626.73 255.53 L625.64 256.65 L624.98 256.96 L624.45 256.85 L624.10 256.24 L624.26 255.72 L624.86 255.30 L626.38 254.93 L627.64 254.28Z M627.64 254.76 L626.38 254.11 L624.86 253.74 L624.26 253.32 L624.10 252.80 L624.45 252.19 L624.98 252.08 L625.64 252.39 L626.73 253.51 L627.92 254.28Z" fill="#000" stroke="#000" stroke-width="0.25" stroke-linejoin="round"/>
<path d="M670.90 266.56 L670.83 265.14 L670.40 263.64 L670.46 262.92 L670.83 262.51 L671.53 262.51 L671.90 262.92 L671.96 263.64 L671.53 265.14 L671.46 266.56Z M671.46 266.56 L671.53 267.98 L671.96 269.48 L671.90 270.20 L671.53 270.61 L670.83 270.61 L670.46 270.20 L670.40 269.48 L670.83 267.98 L670.90 266.56Z M671.04 266.32 L672.23 265.55 L673.32 264.43 L673.98 264.12 L674.51 264.23 L674.86 264.84 L674.70 265.36 L674.10 265.78 L672.58 266.15 L671.32 266.80Z M671.32 266.32 L672.58 266.97 L674.10 267.34 L674.70 267.76 L674.86 268.28 L674.51 268.89 L673.98 269.00 L673.32 268.69 L672.23 267.57 L671.04 266.80Z M671.32 266.80 L670.13 267.57 L669.04 268.69 L668.38 269.00 L667.85 268.89 L667.50 268.28 L667.66 267.76 L668.26 267.34 L669.78 266.97 L671.04 266.32Z M671.04 266.80 L669.78 266.15 L668.26 265.78 L667.66 265.36 L667.50 264.84 L667.85 264.23 L668.38 264.12 L669.04 264.43 L670.13 265.55 L671.32 266.32Z" fill="#000" stroke="#000" stroke-width="0.25" stroke-linejoin="round"/>
<text x="383.40" y="20.90" font-size="21.5" text-anchor="middle" font-weight="bold" >a</text>
<text x="673.70" y="21.10" font-size="20.5" text-anchor="middle" font-weight="bold" >b</text>
<text x="383.50" y="248.90" font-size="21.5" text-anchor="middle" font-weight="bold" >c</text>
<text x="673.40" y="249.10" font-size="20.5" text-anchor="middle" font-weight="bold" >d</text>
</svg>
</body>
</html>
